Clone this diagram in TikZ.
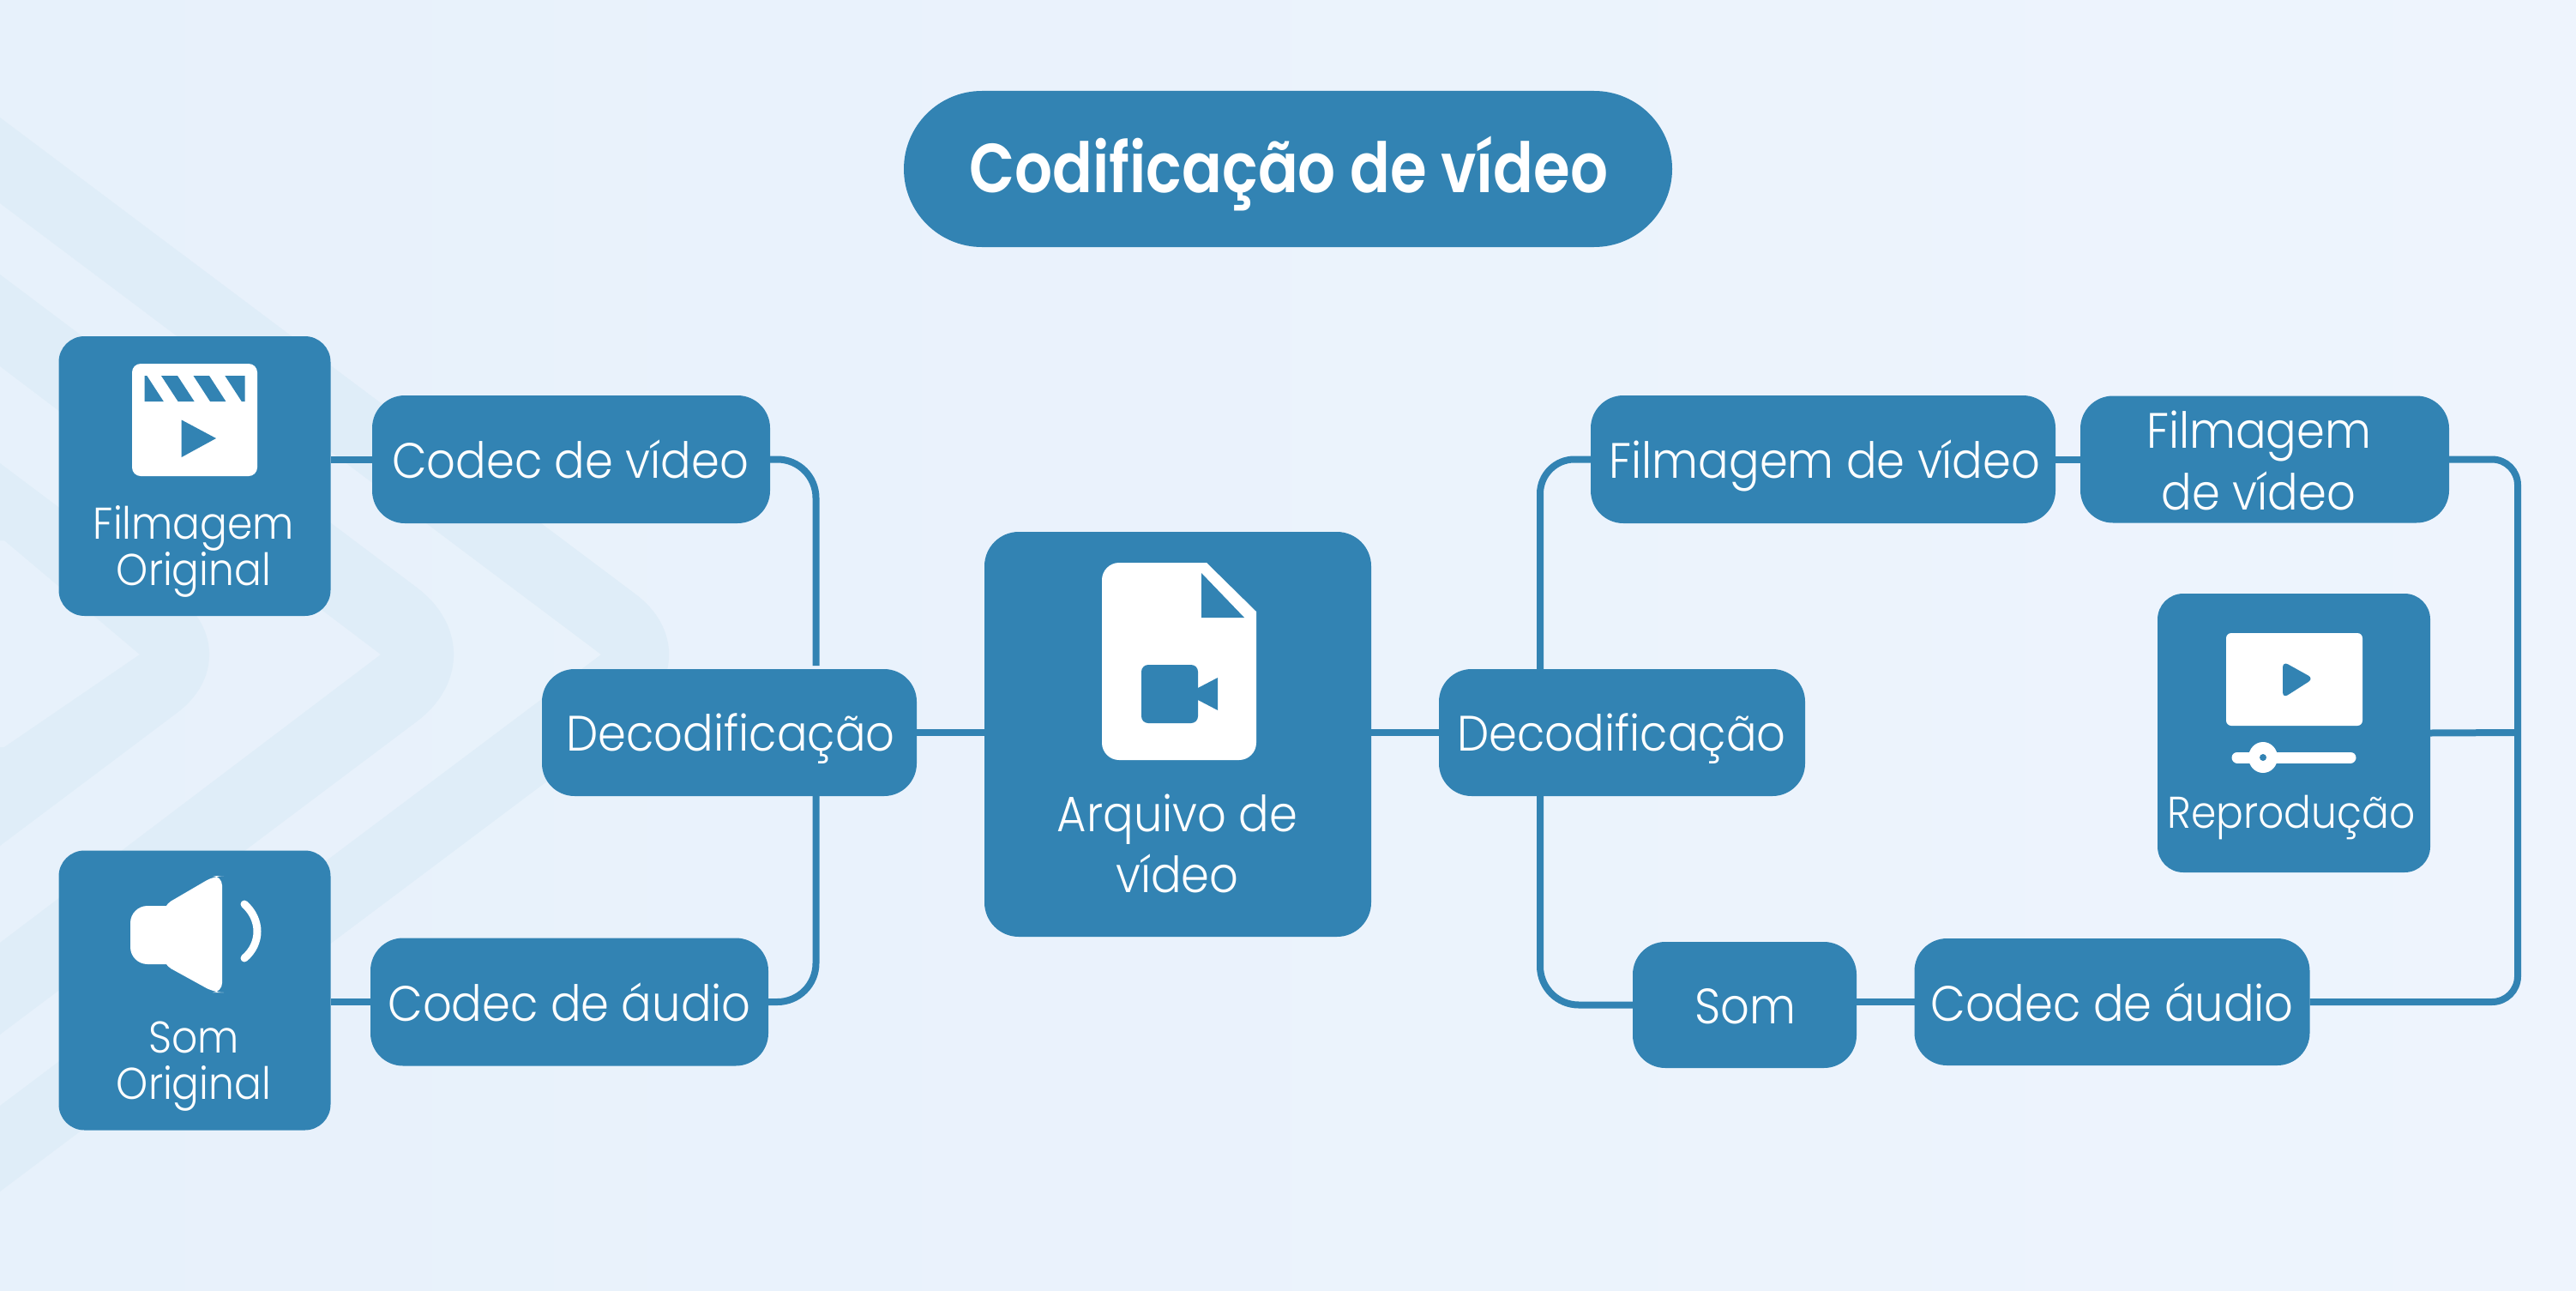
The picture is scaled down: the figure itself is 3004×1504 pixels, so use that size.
\documentclass[tikz,border=0pt]{standalone}
\usepackage{fontspec}
\setmainfont[UprightFont={* Light},BoldFont={* SemiBold},FakeStretch=0.91]{Poppins}
\newfontfamily\titlefont[UprightFont={* SemiBold},FakeStretch=0.855]{Poppins}
\usetikzlibrary{calc}
\definecolor{nodeblue}{HTML}{3283B3}
\definecolor{bgl}{HTML}{E7F1FB}
\definecolor{bgr}{HTML}{EEF4FD}
\definecolor{band}{HTML}{DFEDF8}
\tikzset{
  x=0.02cm,y=-0.02cm,
  boxnode/.style n args={3}{fill=nodeblue,draw=none,inner sep=0pt,outer sep=0pt,minimum width=#1*0.02cm,minimum height=#2*0.02cm,rounded corners=#3*0.02cm},
  conn/.style={draw=nodeblue,line width=0.16cm},
  lab/.style={text=white,inner sep=0pt,align=center,font=\fontsize{33}{40.5}\selectfont},
  labs/.style={text=white,inner sep=0pt,align=center,font=\fontsize{29.5}{30.5}\selectfont},
  wfill/.style={fill=white,draw=none},
  bfill/.style={fill=nodeblue,draw=none},
}
\begin{document}
\begin{tikzpicture}
\useasboundingbox (0,0) rectangle (3004,1504);
\shade[left color=bgl,right color=bgr] (0,0) rectangle (3004,1504);
% background chevrons
\fill[band] (0,137) [rounded corners=117*0.02cm] -- (835,763) [sharp corners] -- (0,1389) -- (0,1289) -- (701,763) -- (0,237) -- cycle;
\fill[band] (0,320) [rounded corners=130*0.02cm] -- (590,763) [sharp corners] -- (0,1206) -- (0,1099) -- (444,763) -- (0,427) -- cycle;
\fill[band] (0,540) [rounded corners=113*0.02cm] -- (297,763) [sharp corners] -- (0,986) -- (0,871) -- (5,871) -- (163,763) -- (5,630) -- (0,630) -- cycle;
% nodes
\node[boxnode={896}{182}{91}] (title) at (1502,197) {};
\node[text=white,inner sep=0pt,font=\titlefont\fontsize{46}{50}\selectfont] (titlet) at (1503,202) {Codificação de vídeo};
\node[boxnode={317}{326}{30}] (fo) at (227,555) {};
\node[boxnode={317}{326}{30}] (so) at (227,1154.5) {};
\node[boxnode={464}{149}{38}] (cv) at (666,535.5) {};
\node[boxnode={464}{149}{38}] (ca) at (664,1168) {};
\node[boxnode={437}{148}{38}] (dl) at (850.5,854) {};
\node[boxnode={451}{472}{40}] (arq) at (1373.5,856) {};
\node[boxnode={427}{148}{38}] (dr) at (1891.5,854) {};
\node[boxnode={542}{149}{38}] (fv) at (2126,535.5) {};
\node[boxnode={430}{148}{38}] (ft) at (2641,535.5) {};
\node[boxnode={318}{325}{30}] (rp) at (2675,854.5) {};
\node[boxnode={461}{148}{38}] (cr) at (2463,1168) {};
\node[boxnode={261}{147}{38}] (sm) at (2034.5,1171.5) {};
\coordinate (tr) at (2936,854);
% connectors
\draw[conn] (cv.west -| fo.east) -- (cv.west);
\draw[conn] (ca.west -| so.east) -- (ca.west);
\draw[conn,rounded corners=0.9cm] (cv.east) -| ($(dl.north)+(101,-4)$);
\draw[conn,rounded corners=0.9cm] (ca.east) -| ($(dl.south)+(101,0)$);
\draw[conn] (dl.east) -- (dl.east -| arq.west);
\draw[conn] (arq.east |- dr.west) -- (dr.west);
\draw[conn,rounded corners=0.8cm] ($(dr.north)+(-95.5,0)$) |- (fv.west);
\draw[conn,rounded corners=0.9cm] ($(dr.south)+(-95.5,0)$) |- (sm.west);
\draw[conn] (fv.east) -- (ft.west);
\draw[conn] (cr.west -| sm.east) -- (cr.west);
\draw[conn,rounded corners=0.6cm] (ft.east) -| (tr) |- (cr.east);
\draw[conn] (rp.east) -- (tr);
% labels
\node[lab] (t1) at (665,535) {Codec de vídeo};
\node[lab] (t2) at (664,1168) {Codec de áudio};
\node[lab] (t3) at (852,861) {Decodificação};
\node[lab] (t4) at (1891,861) {Decodificação};
\node[lab] (t5) at (2128,543) {Filmagem de vídeo};
\node[lab] (t6) at (2634,537) {Filmagem\\de vídeo};
\node[lab] (t7) at (2463,1168) {Codec de áudio};
\node[lab] (t8) at (2035,1173) {Som};
\node[lab] (t9) at (1373,983) {Arquivo de\\vídeo};
\node[labs] (t10) at (226,643) {Filmagem\\Original};
\node[labs] (t11) at (226,1243) {Som\\Original};
\node[labs] (t12) at (2672,953) {Reprodução};
% clapper icon
\fill[wfill,rounded corners=0.2cm] (154,424) rectangle (300,555);
\fill[bfill] (168.6,438) -- (171.3,438) -- (190.8,468) -- (168.6,468) -- cycle;
\fill[bfill] (188,438) -- (207,438) -- (226.6,468) -- (207.6,468) -- cycle;
\fill[bfill] (225.5,438) -- (244,438) -- (263.4,468) -- (245,468) -- cycle;
\fill[bfill] (262.3,438) -- (285.6,438) -- (285.6,468) -- (281.8,468) -- cycle;
\fill[bfill] (211.7,489.5) -- (252,511) -- (211.7,533) -- cycle;
% speaker icon
\fill[wfill,rounded corners=0.4cm] (152,1056) rectangle (215,1124);
\fill[wfill,rounded corners=0.22cm] (190,1056) -- (250,1021) -- (259,1021) -- (259,1157) -- (250,1157) -- (190,1124) -- cycle;
\draw[white,line width=0.18cm,line cap=round] (285,1054) .. controls (305,1072) and (305,1100) .. (285,1117);
% file icon
\fill[wfill] (1407,656) -- (1305,656) .. controls (1294,656) and (1285,665) .. (1285,676) -- (1285,866) .. controls (1285,877) and (1294,886) .. (1305,886) -- (1445,886) .. controls (1456,886) and (1465,877) .. (1465,866) -- (1465,713) -- cycle;
\fill[bfill] (1401,668) -- (1401,720) -- (1451,720) -- cycle;
\fill[bfill,rounded corners=0.16cm] (1331,775) rectangle (1397,843);
\fill[bfill] (1397,802) -- (1420,790) -- (1420,828) -- (1397,816) -- cycle;
% player icon
\fill[wfill,rounded corners=0.12cm] (2596,738) rectangle (2755,846);
\fill[bfill,rounded corners=0.14cm] (2662,771) -- (2698,791) -- (2662,814) -- cycle;
\draw[white,line width=0.26cm,line cap=round] (2609,883) -- (2741,883);
\fill[wfill] (2639,883) ellipse [x radius=17,y radius=18];
\fill[bfill] (2639,883) circle [radius=4];
\end{tikzpicture}
\end{document}
